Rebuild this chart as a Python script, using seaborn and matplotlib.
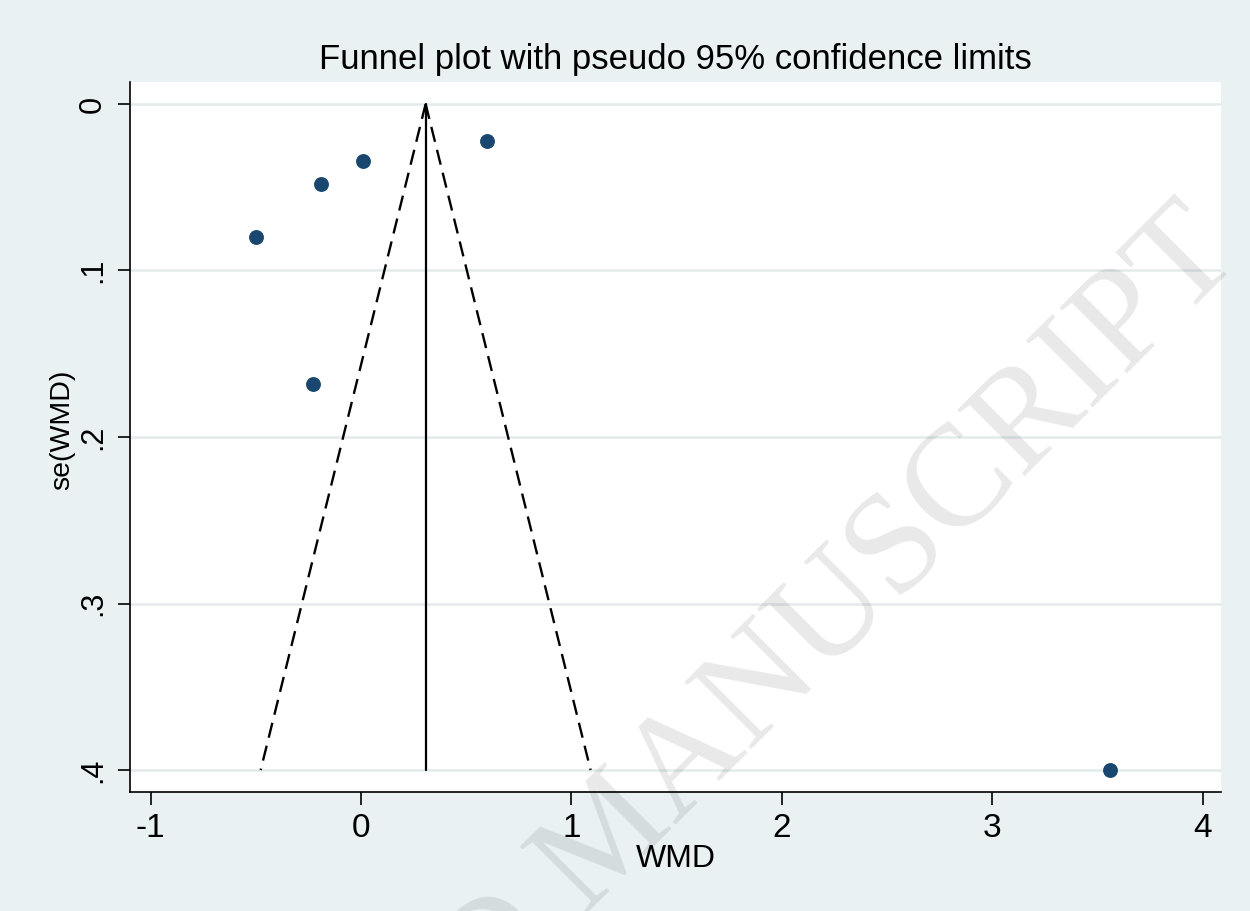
import numpy as np
import pandas as pd
import seaborn as sns
import matplotlib
matplotlib.use("Agg")
import matplotlib.pyplot as plt

# study estimates
wmd = [0.60, 0.01, -0.19, -0.50, -0.23, 3.56]
se_wmd = [0.022, 0.034, 0.048, 0.080, 0.168, 0.400]

# pooled estimate and pseudo 95% limits (at se = 0 and se = 0.4)
pooled = [0.307, 0.307]
funnel_se = [0.0, 0.4]
lower_lim = [0.307, -0.477]
upper_lim = [0.307, 1.091]

x_ticks = [-1, 0, 1, 2, 3, 4]
y_ticks = [0, 0.1, 0.2, 0.3, 0.4]
y_labels = ["0", ".1", ".2", ".3", ".4"]

bg = "#EAF1F3"
navy = "#1A476F"

sns.set_theme(style="white")
plt.rcParams["font.family"] = ["Liberation Sans", "DejaVu Sans"]

fig = plt.figure(figsize=(12.5, 9.11), dpi=100, facecolor=bg)
ax = fig.add_axes([0.104, 0.1306, 0.8728, 0.7794])
ax.set_facecolor("white")

for yt in y_ticks:
    ax.axhline(yt, color="#E4EAEC", lw=1.8, zorder=0)

df = pd.DataFrame({"WMD": wmd, "se": se_wmd})
sns.lineplot(x=lower_lim, y=funnel_se, ax=ax, color="black", lw=1.7,
             sort=False, estimator=None, zorder=2)
ax.lines[-1].set_dashes((6.5, 3.5))
sns.lineplot(x=upper_lim, y=funnel_se, ax=ax, color="black", lw=1.7,
             sort=False, estimator=None, zorder=2)
ax.lines[-1].set_dashes((6.5, 3.5))
sns.lineplot(x=pooled, y=funnel_se, ax=ax, color="black", lw=1.6,
             sort=False, estimator=None, zorder=2)
sns.scatterplot(data=df, x="WMD", y="se", ax=ax, color=navy, s=115,
                edgecolor=navy, linewidth=0, zorder=3)

ax.set_xlim(-1.098, 4.087)
ax.set_ylim(0.4132, -0.0132)
ax.set_xticks(x_ticks)
ax.set_xticklabels([str(v) for v in x_ticks])
ax.set_yticks(y_ticks)
ax.set_yticklabels(y_labels, rotation=90, va="center")

for side in ["top", "right"]:
    ax.spines[side].set_visible(False)
for side in ["left", "bottom"]:
    ax.spines[side].set_color("black")
    ax.spines[side].set_linewidth(1.2)

ax.tick_params(axis="both", direction="out", length=9, width=1.2,
               color="black", labelcolor="black", pad=6,
               left=True, bottom=True)
ax.tick_params(axis="x", labelsize=24)
ax.tick_params(axis="y", labelsize=22, pad=7)

ax.set_xlabel("WMD", fontsize=23, color="black")
ax.xaxis.set_label_coords(0.5, -0.094)
ax.xaxis.label.set_va("center")
ax.set_ylabel("se(WMD)", fontsize=20.5, color="black")
ax.yaxis.set_label_coords(-0.062, 0.51)
ax.yaxis.label.set_va("center")
ax.set_title("Funnel plot with pseudo 95% confidence limits",
             fontsize=25, color="black", pad=9)

# faint journal watermark
fig.text(0.994, 0.717, "ACCEPTED MANUSCRIPT", fontsize=104,
         family="Liberation Serif", color="black", alpha=0.09, rotation=45,
         rotation_mode="anchor", ha="right", va="baseline", zorder=5)

fig.savefig("out.png", dpi=100, facecolor=bg)
